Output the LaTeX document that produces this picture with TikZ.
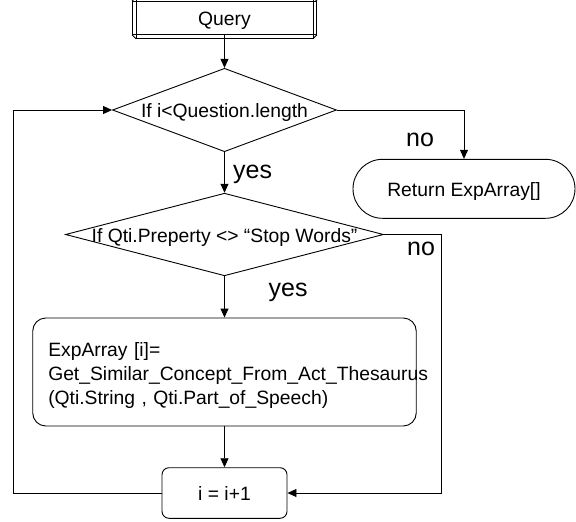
\documentclass[tikz,border=0pt]{standalone}
\usepackage{fontspec}
\setmainfont{Liberation Sans}
\usetikzlibrary{arrows.meta,shapes.geometric}
\begin{document}
\begin{tikzpicture}[x=1pt,y=-1pt,
  every node/.style={font=\fontsize{19.3}{24}\selectfont, inner sep=0pt},
  line/.style={line width=0.9pt},
  arr/.style={line, -{Triangle[length=9pt,width=8pt]}},
  txt/.style={text height=15.5pt, text depth=0pt},
  box/.style={draw, line, txt},
  dec/.style={diamond, draw, line, txt},
  lab/.style={font=\fontsize{25}{30}\selectfont, anchor=base west},
]
\useasboundingbox (0,0) rectangle (576,522);

% start box with bevelled double frame
\node[box, minimum width=184pt, minimum height=32.6pt] (query) at (224.5,18) {Query};
\draw[line] ([shift={(4pt,4pt)}]query.north west) rectangle ([shift={(-4pt,-4pt)}]query.south east);
\draw[line] (query.north west) -- ([shift={(4pt,4pt)}]query.north west);
\draw[line] (query.north east) -- ([shift={(-4pt,4pt)}]query.north east);
\draw[line] (query.south west) -- ([shift={(4pt,-4pt)}]query.south west);
\draw[line] (query.south east) -- ([shift={(-4pt,-4pt)}]query.south east);

% decisions
\node[dec, aspect=2.67, minimum width=224pt, minimum height=83.4pt] (d1) at (224.5,110)
  {\makebox[0pt]{If i<Question.length}};
\node[dec, aspect=3.88, minimum width=318pt, minimum height=82.6pt] (d2) at (224.5,234.5)
  {\makebox[0pt]{If Qti.Preperty <> “Stop Words”}};

% terminal
\node[box, rounded corners=29.5pt, minimum width=222pt, minimum height=59pt] (ret) at (464,188.8)
  {Return ExpArray[]};

% process
\node[draw, line, rounded corners=13pt, minimum width=383.5pt, minimum height=108pt,
      text width=352.5pt, inner xsep=15.5pt, inner ysep=0pt, align=left] (exp) at (224.5,372)
  {\rule{0pt}{21.5pt}ExpArray [i]=\\Get\_Similar\_Concept\_From\_Act\_Thesaurus\\(Qti.String , Qti.Part\_of\_Speech)};

\node[box, rounded corners=7pt, minimum width=125pt, minimum height=50.6pt] (inc) at (224.5,493)
  {i = i+1};

% helper corners
\coordinate (ll) at (13.5,493);
\coordinate (rr) at (441,493);

% connectors
\draw[arr] (query.south) -- (d1.north);
\draw[arr] (d1.east) -| (ret.north);
\draw[arr] (d1.south) -- (d2.north);
\draw[arr] (d2.south) -- (exp.north);
\draw[arr] (exp.south) -- (inc.north);
\draw[arr] (d2.east) -| (rr) -- (inc.east);
\draw[arr] (inc.west) -- (ll) |- (d1.west);

% labels
\node[lab] (no1) at (406,146.7) {no};
\node[lab] (yes1) at (233,178) {yes};
\node[lab] (no2) at (407,255) {no};
\node[lab] (yes2) at (268.5,296) {yes};
\end{tikzpicture}
\end{document}
